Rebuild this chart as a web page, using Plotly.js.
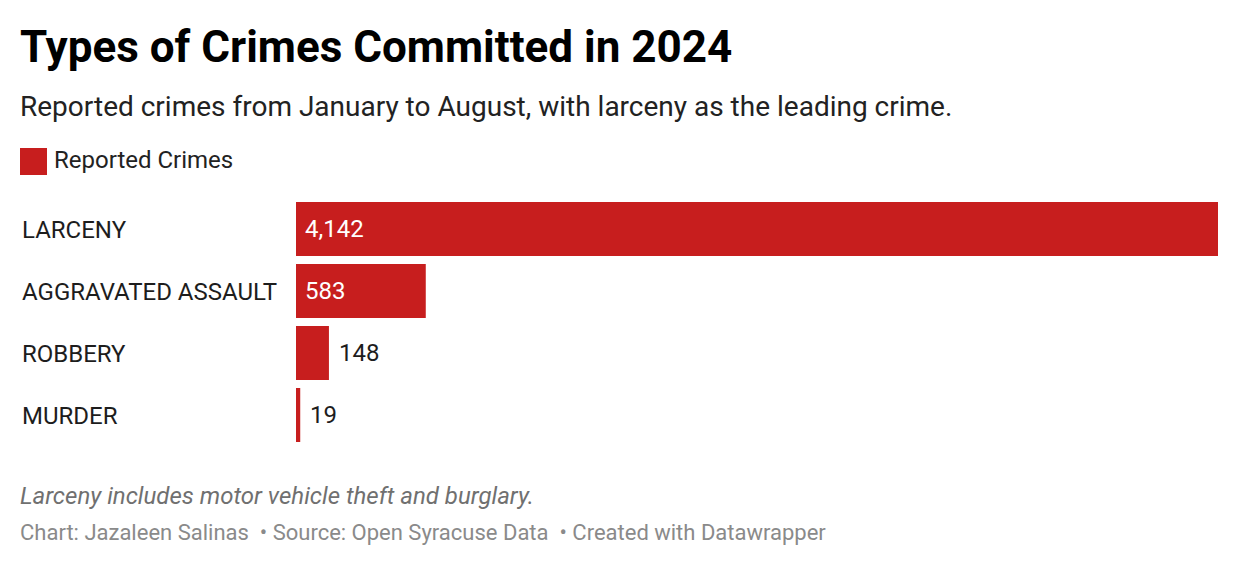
<!DOCTYPE html>
<html>
<head>
<meta charset="utf-8">
<script src="https://cdn.plot.ly/plotly-3.0.1.min.js"></script>
<style>
  html, body { margin: 0; padding: 0; background: #fff; }
  #chart { width: 1240px; height: 568px; }
</style>
</head>
<body>
<div id="chart"></div>
<script>
const crimes = ['LARCENY', 'AGGRAVATED ASSAULT', 'ROBBERY', 'MURDER'];
const reported = [4142, 583, 148, 19];
const labelInside = [true, true, false, false];

const red = '#c71e1e';
const font = 'Roboto, "Open Sans", sans-serif';

// plot area in px: left 296, right 1218, top 198, bottom 446
const L = 296, R = 1218, T = 198, B = 446;
const px = x => (x - L) / (R - L);
const py = y => (B - y) / (B - T);

var bars = {
  type: 'bar',
  orientation: 'h',
  x: reported,
  y: crimes,
  marker: { color: red },
  hoverinfo: 'x+y',
  showlegend: false
};

var annotations = [];

// category labels, left aligned
crimes.forEach(c => annotations.push({
  xref: 'paper', yref: 'y', x: px(20), y: c, yshift: -1,
  xanchor: 'left', yanchor: 'middle', showarrow: false,
  text: c, font: { family: font, size: 24, color: '#1d1d1d' }
}));

// value labels
reported.forEach((v, i) => annotations.push({
  xref: 'x', yref: 'y', x: labelInside[i] ? 0 : v, y: crimes[i],
  xanchor: 'left', yanchor: 'middle', showarrow: false, xshift: labelInside[i] ? 7 : 8,
  text: v.toLocaleString('en-US'),
  font: { family: font, size: 24, color: labelInside[i] ? '#ffffff' : '#1d1d1d' }
}));

// subtitle
annotations.push({
  xref: 'paper', yref: 'paper', x: px(18), y: py(106),
  xanchor: 'left', yanchor: 'middle', showarrow: false,
  text: 'Reported crimes from January to August, with larceny as the leading crime.',
  font: { family: font, size: 28, color: '#222' }
});

// legend text
annotations.push({
  xref: 'paper', yref: 'paper', x: px(52), y: py(160),
  xanchor: 'left', yanchor: 'middle', showarrow: false,
  text: 'Reported Crimes',
  font: { family: font, size: 24, color: '#222' }
});

// notes
annotations.push({
  xref: 'paper', yref: 'paper', x: px(18), y: py(496),
  xanchor: 'left', yanchor: 'middle', showarrow: false,
  text: '<i>Larceny includes motor vehicle theft and burglary.</i>',
  font: { family: font, size: 24, color: '#707070' }
});
annotations.push({
  xref: 'paper', yref: 'paper', x: px(18), y: py(532),
  xanchor: 'left', yanchor: 'middle', showarrow: false,
  text: 'Chart: Jazaleen Salinas \u00a0\u2022 Source: Open Syracuse Data \u00a0\u2022 Created with Datawrapper',
  font: { family: font, size: 22, color: '#8a8a8a' }
});

var layout = {
  width: 1240,
  height: 568,
  margin: { l: L, r: 1240 - R, t: T, b: 568 - B, pad: 0 },
  paper_bgcolor: '#ffffff',
  plot_bgcolor: '#ffffff',
  title: {
    text: '<b>Types of Crimes Committed in 2024</b>',
    xref: 'container', yref: 'container',
    x: 20 / 1240, xanchor: 'left',
    y: 1 - 47 / 568, yanchor: 'middle',
    font: { family: font, size: 44, color: '#000' }
  },
  bargap: 8 / 62,
  xaxis: { range: [0, Math.max(...reported)], visible: false, fixedrange: true },
  yaxis: { autorange: 'reversed', showticklabels: false, showgrid: false, zeroline: false, showline: false, ticks: '', fixedrange: true },
  shapes: [{
    type: 'rect', xref: 'paper', yref: 'paper',
    x0: px(20), x1: px(47), y0: py(175), y1: py(148),
    fillcolor: red, line: { width: 0 }
  }],
  annotations: annotations,
  showlegend: false
};

Plotly.newPlot('chart', [bars], layout, { displayModeBar: false, staticPlot: true });
</script>
</body>
</html>
